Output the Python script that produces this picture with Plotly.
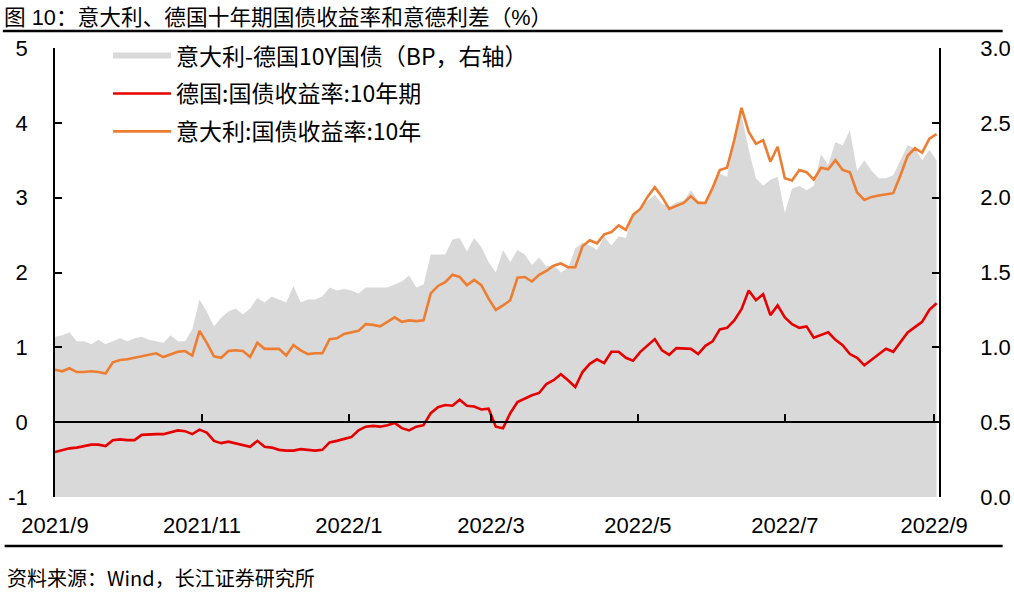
import pandas as pd
import plotly.graph_objects as go

# ---- data (3-day sampling, 2021-09-01 .. 2022-09-02) ----
start_date = "2021-09-01"
n_points = 123
dates = pd.date_range(start_date, periods=n_points, freq="3D")

italy_10y = [0.70,0.68,0.72,0.67,0.67,0.68,0.67,0.65,0.80,0.83,
             0.84,0.86,0.87,0.90,0.92,0.87,0.90,0.94,0.95,0.89,
             1.22,1.06,0.88,0.86,0.95,0.96,0.95,0.87,1.06,0.98,
             0.98,0.98,0.89,1.03,0.96,0.91,0.92,0.92,1.11,1.12,
             1.18,1.20,1.22,1.31,1.30,1.28,1.34,1.40,1.34,1.36,
             1.35,1.36,1.72,1.82,1.87,1.97,1.94,1.83,1.90,1.83,
             1.65,1.50,1.56,1.63,1.93,1.94,1.88,1.97,2.02,2.09,
             2.12,2.07,2.07,2.35,2.43,2.39,2.51,2.54,2.63,2.57,
             2.77,2.85,3.01,3.14,3.01,2.85,2.89,2.93,3.02,2.93,
             2.93,3.13,3.37,3.40,3.77,4.20,3.88,3.72,3.77,3.48,
             3.68,3.26,3.23,3.37,3.34,3.24,3.40,3.38,3.50,3.37,
             3.34,3.07,2.97,3.01,3.03,3.05,3.06,3.30,3.56,3.66,
             3.60,3.79,3.85]

germany_10y = [-0.40,-0.37,-0.35,-0.34,-0.32,-0.30,-0.30,-0.32,-0.24,-0.23,
               -0.24,-0.24,-0.17,-0.16,-0.16,-0.16,-0.13,-0.11,-0.12,-0.16,
               -0.10,-0.14,-0.25,-0.28,-0.26,-0.28,-0.30,-0.33,-0.25,-0.33,
               -0.34,-0.37,-0.38,-0.38,-0.36,-0.37,-0.38,-0.37,-0.27,-0.25,
               -0.23,-0.20,-0.11,-0.06,-0.05,-0.06,-0.04,-0.01,-0.08,-0.11,
               -0.06,-0.04,0.12,0.20,0.23,0.22,0.30,0.22,0.21,0.17,
               0.18,-0.06,-0.08,0.12,0.27,0.32,0.36,0.39,0.51,0.56,
               0.64,0.56,0.47,0.67,0.78,0.84,0.79,0.94,0.94,0.86,
               0.82,0.94,1.03,1.11,0.96,0.90,0.99,0.98,0.98,0.91,
               1.02,1.08,1.24,1.26,1.36,1.51,1.76,1.63,1.71,1.43,
               1.56,1.40,1.31,1.26,1.28,1.13,1.16,1.20,1.10,1.03,
               0.91,0.86,0.76,0.83,0.90,0.98,0.94,1.07,1.20,1.27,
               1.34,1.50,1.59]

spread_it_de = [1.07,1.08,1.10,1.04,1.04,1.02,1.05,1.02,1.04,1.06,
                1.04,1.06,1.07,1.05,1.04,1.03,1.08,1.04,1.04,1.12,
                1.32,1.24,1.14,1.20,1.24,1.26,1.22,1.26,1.33,1.30,
                1.34,1.32,1.30,1.41,1.30,1.32,1.32,1.34,1.40,1.38,
                1.39,1.38,1.36,1.40,1.40,1.40,1.40,1.42,1.44,1.48,
                1.40,1.42,1.62,1.62,1.62,1.72,1.73,1.64,1.73,1.67,
                1.57,1.50,1.65,1.57,1.65,1.62,1.55,1.60,1.54,1.55,
                1.50,1.53,1.66,1.70,1.68,1.65,1.74,1.68,1.74,1.73,
                1.90,1.93,1.98,2.02,1.96,1.94,1.97,1.98,2.05,1.98,
                1.96,2.08,2.16,2.14,2.42,2.55,2.32,2.13,2.08,2.12,
                2.14,1.90,2.06,2.08,2.05,2.08,2.29,2.22,2.37,2.35,
                2.45,2.18,2.25,2.18,2.13,2.13,2.15,2.25,2.35,2.33,
                2.25,2.32,2.25]

tick_dates = ["2021-09-01", "2021-11-01", "2022-01-01", "2022-03-01",
              "2022-05-01", "2022-07-01", "2022-09-01"]
tick_labels = ["2021/9", "2021/11", "2022/1", "2022/3", "2022/5", "2022/7", "2022/9"]
left_ticks = [-1, 0, 1, 2, 3, 4, 5]
left_labels = ["-1", "0", "1", "2", "3", "4", "5"]

name_spread = "意大利-德国10Y国债（BP，右轴）"
name_de = "德国:国债收益率:10年期"
name_it = "意大利:国债收益率:10年"
title_text = "图 10：意大利、德国十年期国债收益率和意德利差（%）"
source_text = "资料来源：Wind，长江证券研究所"

LAT = "Liberation Sans, Arial, Noto Sans CJK SC"
CJK = "Noto Sans CJK SC, Liberation Sans"

fig = go.Figure()
# gray area on main subplot (right axis)
fig.add_trace(go.Scatter(x=dates, y=spread_it_de, name=name_spread, mode="none",
                         fill="tozeroy", fillcolor="#D9D9D9", legendgroup="a",
                         hoverinfo="skip"))
# lines on overlaying left axis
fig.add_trace(go.Scatter(x=dates, y=germany_10y, name=name_de, yaxis="y2",
                         mode="lines", line=dict(color="#E60000", width=2.6),
                         legendgroup="b"))
fig.add_trace(go.Scatter(x=dates, y=italy_10y, name=name_it, yaxis="y2",
                         mode="lines", line=dict(color="#ED7D31", width=2.6),
                         legendgroup="c"))
# invisible helper trace for the zero-crossing x axis
fig.add_trace(go.Scatter(x=dates, y=germany_10y, xaxis="x2", yaxis="y2",
                         mode="lines", line=dict(width=0), opacity=0,
                         showlegend=False, hoverinfo="skip"))

x_range = ["2021-09-01", "2022-09-03"]

fig.update_layout(
    width=1014, height=592,
    margin=dict(l=55, r=75, t=48, b=95, autoexpand=False),
    paper_bgcolor="white", plot_bgcolor="white",
    showlegend=True,
    legend=dict(x=0.06, y=1.031, xanchor="left", yanchor="top",
                bgcolor="rgba(0,0,0,0)", font=dict(family=CJK, size=23, color="black"),
                itemwidth=58, tracegroupgap=5),
    xaxis=dict(type="date", range=x_range, tickvals=tick_dates, ticktext=tick_labels,
               showline=False, ticks="", showgrid=False, zeroline=False,
               tickfont=dict(family=LAT, size=22, color="black"),
               ticklabelstandoff=13),
    xaxis2=dict(type="date", range=x_range, overlaying="x", anchor="free",
                position=1/6, tickvals=tick_dates, showticklabels=False,
                showline=True, linecolor="black", linewidth=1.5,
                ticks="inside", ticklen=7, tickcolor="black", tickwidth=1.5,
                showgrid=False, zeroline=False, layer="above traces"),
    yaxis=dict(range=[0, 3], dtick=0.5, tickformat=".1f", side="right",
               showline=True, linecolor="black", linewidth=1.5,
               ticks="inside", ticklen=7, tickcolor="black", tickwidth=1.5,
               showgrid=False, zeroline=False, layer="above traces",
               tickfont=dict(family=LAT, size=22, color="black"),
               ticklabelstandoff=35),
    yaxis2=dict(range=[-1, 5], tickvals=left_ticks, ticktext=left_labels,
                overlaying="y", side="left",
                showline=True, linecolor="black", linewidth=1.5,
                ticks="inside", ticklen=7, tickcolor="black", tickwidth=1.5,
                showgrid=False, zeroline=False, layer="above traces",
                tickfont=dict(family=LAT, size=22, color="black"),
                ticklabelstandoff=21),
    title=dict(text=title_text, x=0.004, xanchor="left", xref="container",
               y=1 - 17 / 592, yanchor="middle", yref="container",
               font=dict(family=LAT, size=21.7, color="black")),
)

# rules above and below the chart
fig.add_shape(type="line", xref="paper", yref="paper",
              x0=-0.059, x1=1.072, y0=(497 - 31) / 449, y1=(497 - 31) / 449,
              line=dict(color="black", width=2.5))
fig.add_shape(type="line", xref="paper", yref="paper",
              x0=-0.057, x1=1.072, y0=(497 - 546) / 449, y1=(497 - 546) / 449,
              line=dict(color="black", width=2.5))

fig.add_annotation(text=source_text, xref="paper", yref="paper",
                   x=(5 - 55) / 884, y=(497 - 577) / 449, xanchor="left", yanchor="middle",
                   showarrow=False, font=dict(family=CJK, size=20, color="black"))

fig.write_html("out.html", config={"displayModeBar": False},
               post_script="document.body.style.margin='0';document.body.style.overflow='hidden';")
